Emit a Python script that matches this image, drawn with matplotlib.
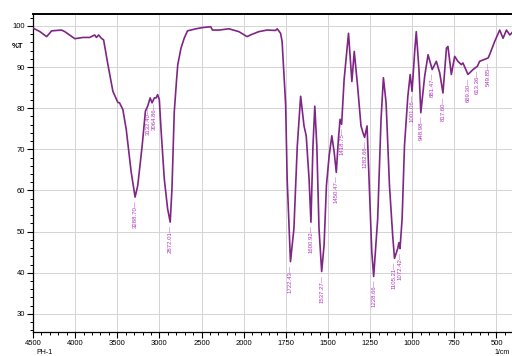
import numpy as np
import matplotlib
matplotlib.use("Agg")
import matplotlib.pyplot as plt
from matplotlib.ticker import FixedLocator

# spectrum (wavenumber in 1/cm, transmittance in %T)
wavenumber = [4500, 4417, 4338, 4279, 4161, 4122, 4004, 3906, 3827, 3768, 3748, 3721,
              3689, 3662, 3611, 3552, 3493, 3473, 3434, 3394, 3335, 3288.7, 3257, 3205,
              3166, 3139, 3110, 3087, 3060, 3040, 3021, 3001, 2981, 2942, 2903, 2872,
              2851, 2824, 2796, 2782, 2744, 2706, 2667, 2567, 2489, 2390, 2371, 2292,
              2174, 2056, 1980, 1960, 1911, 1861, 1811, 1801, 1781, 1772, 1751, 1742,
              1722.4, 1702, 1682, 1662, 1642, 1629, 1612, 1600.9, 1589, 1578, 1566, 1553,
              1537.3, 1523, 1509, 1493, 1477, 1463, 1450.5, 1438, 1428, 1418.8, 1404, 1378,
              1358, 1344, 1324, 1304, 1292, 1282.7, 1268, 1255, 1240, 1228.7, 1205, 1185,
              1171, 1155, 1135, 1116, 1105.2, 1086, 1079, 1072.4, 1060, 1046, 1026, 1012,
              1001.1, 986, 976, 960, 949, 926, 906, 881.5, 857, 837, 817.6, 797,
              788, 768, 748, 729, 709, 699, 669.3, 639, 613.4, 600, 549.9, 541,
              511, 481, 461, 441, 421, 405]
transmittance = [99.5, 98.6, 97.4, 98.8, 99.0, 98.6, 96.9, 97.2, 97.2, 97.8, 97.2, 97.8,
                 97.0, 96.6, 90.6, 84.1, 81.4, 81.3, 79.7, 74.9, 64.5, 58.4, 61.2, 70.8,
                 79.3, 80.5, 82.5, 81.3, 82.5, 82.5, 83.3, 82.1, 74.9, 62.8, 55.6, 52.3,
                 60.4, 79.0, 87.0, 90.6, 94.6, 97.0, 98.8, 99.3, 99.6, 99.8, 99.0, 99.0,
                 99.3, 98.6, 97.4, 97.8, 98.6, 99.0, 98.9, 99.3, 98.2, 96.2, 80.9, 62.8,
                 42.7, 50.7, 70.8, 82.9, 75.7, 73.3, 62.8, 52.3, 70.8, 80.5, 70.8, 50.7,
                 40.3, 46.7, 61.2, 68.4, 73.3, 69.3, 64.4, 72.5, 77.3, 76.1, 87.0, 98.2,
                 86.5, 93.8, 85.3, 75.7, 74.0, 72.9, 75.7, 61.2, 45.1, 39.1, 53.1, 77.3,
                 87.4, 81.3, 61.2, 49.1, 43.5, 45.9, 47.3, 45.9, 53.1, 70.8, 82.9, 88.2,
                 84.1, 93.4, 98.6, 89.4, 78.9, 87.8, 93.0, 89.4, 91.4, 88.6, 83.7, 94.6,
                 95.0, 88.2, 92.6, 91.4, 90.6, 91.0, 88.2, 89.4, 90.2, 91.4, 92.2, 93.0,
                 96.2, 99.0, 97.0, 99.0, 97.8, 98.5]

peak_labels = [3288.70, 3132.40, 3064.86, 2872.01, 1722.43, 1600.92, 1537.27, 1450.47,
               1418.75, 1282.66, 1228.66, 1105.21, 1072.42, 1001.06, 948.98, 881.47,
               817.60, 669.30, 613.36, 549.85]

x_major = [4500, 4000, 3500, 3000, 2500, 2000, 1750, 1500, 1250, 1000, 750, 500]
y_major = [30, 40, 50, 60, 70, 80, 90, 100]


# IR axis: scale doubles below 2000 1/cm
def fwd(x):
    x = np.asarray(x, dtype=float)
    return np.where(x > 2000, x, 2 * x - 2000)


def inv(u):
    u = np.asarray(u, dtype=float)
    return np.where(u > 2000, u, (u + 2000) / 2)


plt.rcParams['font.family'] = ['Liberation Sans', 'DejaVu Sans']
fig = plt.figure(figsize=(5.12, 3.56), dpi=100)
ax = fig.add_axes([33 / 512, 24 / 356, 1 - 33 / 512, 318 / 356])
ax.set_xscale('function', functions=(fwd, inv))

line_col = '#7f2585'
label_col = '#b535c0'
ax.plot(wavenumber, transmittance, color=line_col, lw=1.2, zorder=3)

wn_arr = np.array(wavenumber)[::-1]
t_arr = np.array(transmittance)[::-1]
for p in peak_labels:
    tp = np.interp(p, wn_arr, t_arr)
    ax.text(p, tp - 0.8, f"{p:.2f}\u2014", rotation=90, ha='center', va='top',
            fontsize=4.3, color=label_col, zorder=4)

ax.set_xlim(4500, 408)
ax.set_ylim(25.6, 102.9)

minor_x = list(range(4500, 2000, -100)) + list(range(2000, 400, -50))
ax.xaxis.set_major_locator(FixedLocator(x_major))
ax.xaxis.set_minor_locator(FixedLocator(minor_x))
ax.set_xticklabels([str(v) for v in x_major])
ax.yaxis.set_major_locator(FixedLocator(y_major))
ax.yaxis.set_minor_locator(FixedLocator(list(range(26, 103, 2))))

ax.tick_params(axis='both', which='major', labelsize=5.5, length=4, width=0.8, pad=1.5)
ax.tick_params(axis='both', which='minor', length=2.5, width=0.7)
ax.grid(True, which='major', color='#d4d4d4', lw=0.7, zorder=0)

for side in ['left', 'bottom']:
    ax.spines[side].set_linewidth(0.9)
ax.spines['top'].set_linewidth(1.4)
ax.spines['right'].set_visible(False)

fig.text(12 / 512, 1 - 47 / 356, '%T', fontsize=5.5, fontweight='bold', va='center')
fig.text(510 / 512, 0.5 / 356, '1/cm', fontsize=5, ha='right', va='bottom')
fig.text(36 / 512, 0.5 / 356, 'PH-1', fontsize=5, ha='left', va='bottom')

fig.savefig('out.png', dpi=100)
